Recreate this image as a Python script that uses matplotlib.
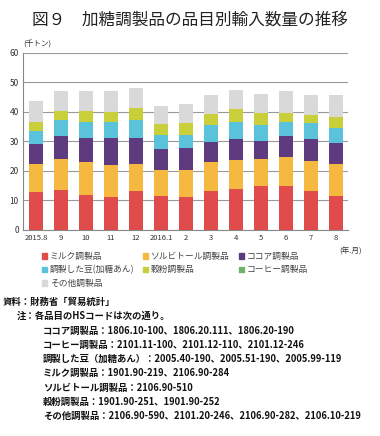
import numpy as np
import matplotlib.pyplot as plt
from matplotlib.patches import Patch

plt.rcParams['font.family'] = ['Noto Sans CJK JP', 'DejaVu Sans']

# 年.月
meses = ['2015.8', '9', '10', '11', '12', '2016.1', '2', '3', '4', '5', '6', '7', '8']

# 千トン
milk = [12.7, 13.5, 11.8, 11.3, 13.2, 11.6, 11.0, 13.3, 14.0, 15.0, 14.9, 13.2, 11.4]
sorbitol = [9.8, 10.7, 11.1, 10.6, 9.3, 8.7, 9.3, 9.8, 9.8, 8.9, 9.7, 10.1, 11.1]
cocoa = [6.5, 7.7, 8.1, 9.1, 8.5, 7.0, 7.5, 6.7, 6.9, 6.2, 7.3, 7.4, 7.1]
beans = [4.5, 5.4, 5.7, 5.7, 6.3, 4.8, 4.4, 5.9, 6.0, 5.5, 4.8, 5.4, 5.0]
flour = [3.2, 3.0, 3.6, 3.4, 3.9, 3.7, 4.1, 3.4, 4.2, 3.9, 2.8, 2.7, 3.7]
coffee = [0.0, 0.0, 0.0, 0.0, 0.0, 0.0, 0.0, 0.0, 0.0, 0.0, 0.0, 0.0, 0.0]
otros = [6.8, 6.6, 6.9, 7.1, 6.9, 6.2, 6.5, 6.7, 6.6, 6.5, 7.6, 7.0, 7.3]

series = [milk, sorbitol, cocoa, beans, flour, coffee, otros]
nombres = ['ミルク調製品', 'ソルビトール調製品', 'ココア調製品',
           '調製した豆(加糖あん)', '穀粉調製品', 'コーヒー調製品', 'その他調製品']
colores = ['#E04B4B', '#F5B942', '#5E3A7E', '#5BC2DC', '#C9CF3A', '#6DB36B', '#D9D9D9']

fig = plt.figure(figsize=(3.8, 4.36), dpi=100)
ax = fig.add_axes([0.06, 0.4725, 0.856, 0.4065])

x = np.arange(len(meses))
base = np.zeros(len(meses))
for vals, col in zip(series, colores):
    ax.bar(x, vals, bottom=base, width=0.56, color=col, zorder=3, linewidth=0)
    base = base + np.array(vals)

ax.set_ylim(0, 60)
ax.set_xlim(-0.53, 12.48)
ax.set_yticks(range(0, 61, 10))
ax.set_xticks(x)
ax.set_xticklabels(meses, fontsize=5.5, color='#333333')
ax.tick_params(axis='y', labelsize=6, colors='#333333', length=0, pad=3)
ax.tick_params(axis='x', length=0, pad=3)
ax.grid(axis='y', color='#999999', linewidth=0.8, zorder=0)
for s in ['top', 'right']:
    ax.spines[s].set_visible(False)
ax.spines['left'].set_color('#888888')
ax.spines['bottom'].set_color('#888888')

fig.text(0.5, 0.955, '図９　加糖調製品の品目別輸入数量の推移', ha='center', va='center',
         fontsize=12, color='#222222')
fig.text(0.06, 0.897, '(千トン)', fontsize=5.5, color='#333333', va='center')
fig.text(0.953, 0.422, '(年.月)', fontsize=5.5, color='#333333', ha='right', va='center')

# leyenda en orden de filas
orden = [0, 3, 6, 1, 4, 2, 5]
handles = [Patch(color=colores[i]) for i in orden]
labels = [nombres[i] for i in orden]
fig.legend(handles, labels, ncol=3, loc='upper left', bbox_to_anchor=(0.09, 0.44),
           frameon=False, fontsize=6.3, handlelength=0.6, handleheight=0.6,
           handletextpad=0.3, columnspacing=1.0, labelspacing=0.5,
           labelcolor='#444444')

notas = [
    (0.008, '資料：財務省「貿易統計」'),
    (0.045, '注：各品目のHSコードは次の通り。'),
    (0.113, 'ココア調製品：1806.10-100、1806.20.111、1806.20-190'),
    (0.113, 'コーヒー調製品：2101.11-100、2101.12-110、2101.12-246'),
    (0.113, '調製した豆（加糖あん）：2005.40-190、2005.51-190、2005.99-119'),
    (0.113, 'ミルク調製品：1901.90-219、2106.90-284'),
    (0.113, 'ソルビトール調製品：2106.90-510'),
    (0.113, '穀粉調製品：1901.90-251、1901.90-252'),
    (0.113, 'その他調製品：2106.90-590、2101.20-246、2106.90-282、2106.10-219'),
]
y0 = 302
for i, (xx, txt) in enumerate(notas):
    fig.text(xx, 1 - (y0 + i * 14.25) / 436, txt, fontsize=6.75, va='center',
             color='#111111', fontweight='bold')

fig.savefig('out.png', dpi=100)
